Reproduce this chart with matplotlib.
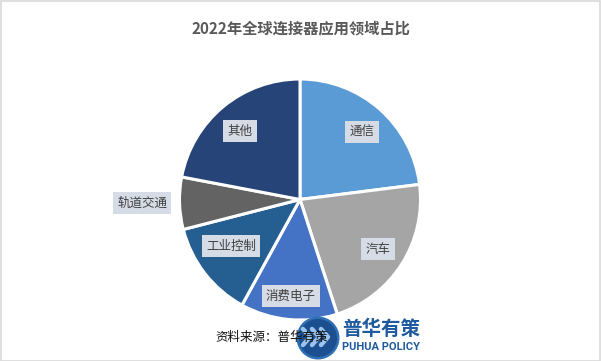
import matplotlib
matplotlib.use("Agg")
import matplotlib.pyplot as plt
from matplotlib.patches import Rectangle, Circle

plt.rcParams['font.family'] = ['Noto Sans CJK SC', 'DejaVu Sans']

title = "2022年全球连接器应用领域占比"
categories = ["通信", "汽车", "消费电子", "工业控制", "轨道交通", "其他"]
values = [23, 22, 13, 13, 7, 22]
colors = ["#5B9BD5", "#A5A5A5", "#4472C4", "#255E91", "#636363", "#264478"]
source = "资料来源：普华有策"

W, H = 601, 361
fig = plt.figure(figsize=(W / 100, H / 100), dpi=100)
ax = fig.add_axes([0, 0, 1, 1])

cx, cy, r = 300, H - 199.5, 120.5
wedges, _ = ax.pie(values, colors=colors, startangle=90, counterclock=False,
                   center=(cx, cy), radius=r, frame=True,
                   wedgeprops=dict(edgecolor="white", linewidth=2.2))
ax.set_xlim(0, W)
ax.set_ylim(0, H)
ax.axis("off")

label_pos = [(362, 132), (378, 249), (291, 296), (231, 246), (142, 203), (240, 131)]
box = dict(boxstyle="square,pad=0.35", facecolor="#D6DCE5", edgecolor="none")
for name, (x, y) in zip(categories, label_pos):
    ax.text(x, H - y, name, ha="center", va="center", fontsize=9,
            color="#404040", bbox=box)

fig.text(0.5, 1 - 28.5 / H, title, ha="center", va="center", fontsize=11,
         fontweight="bold", color="#595959")

# logo (watermark)
lx, ly = 318, H - 338
ax.add_patch(Circle((lx, ly), 21.5, facecolor="#2E6FB5", edgecolor="none", zorder=5))
ax.add_patch(Circle((lx, ly), 19, facecolor="#1B4F8F", edgecolor="none", zorder=5))
for dx in (-10, -1, 8):
    ax.plot([lx + dx - 5, lx + dx + 2, lx + dx - 5], [ly + 9, ly + 1, ly - 7],
            color="#9CC3EA", linewidth=3.2, solid_capstyle="round", zorder=6)
ax.text(272, H - 337, source, ha="center", va="center", fontsize=9, color="#111111", zorder=7)
ax.text(381, H - 329, "普华有策", ha="center", va="center", fontsize=14,
        fontweight="bold", color="#1F5A9E", zorder=6)
ax.text(381.5, H - 346.5, "PUHUA POLICY", ha="center", va="center", fontsize=8,
        fontweight="bold", color="#1F5A9E", family=["Roboto", "DejaVu Sans"], zorder=6)

fig.add_artist(Rectangle((0.5 / W, 0.5 / H), 1 - 1.5 / W, 1 - 1.5 / H,
                         transform=fig.transFigure, fill=False,
                         edgecolor="#D9D9D9", linewidth=1.2))

fig.savefig("out.png", dpi=100)
